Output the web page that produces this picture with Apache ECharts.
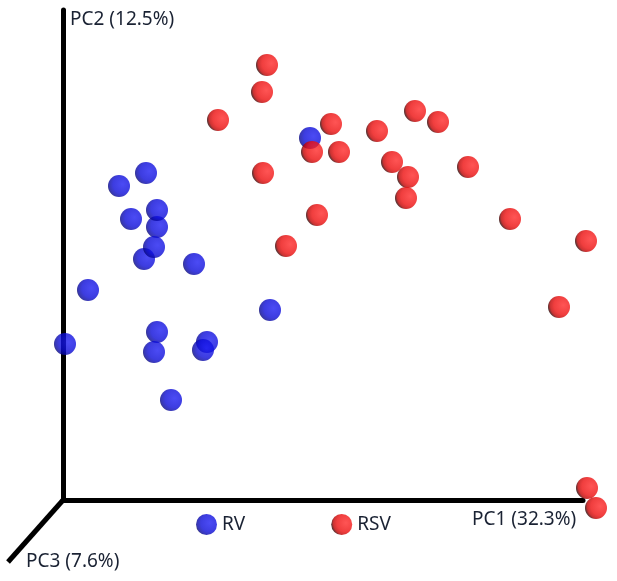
<!DOCTYPE html>
<html>
<head>
<meta charset="utf-8">
<script src="https://cdn.jsdelivr.net/npm/echarts@6/dist/echarts.min.js"></script>
<style>
  html, body { margin: 0; padding: 0; background: #fff; }
  #pca-box { width: 617px; height: 581px; }
</style>
</head>
<body>
<div id="pca-box"></div>
<script>
  // projected PCA coordinates (PC1 horizontal, PC2 vertical)
  const rvPoints = [
    [49.4, 72.4], [16.6, 65.4], [11.2, 62.8], [13.6, 56.2], [18.8, 54.6],
    [18.8, 58.0], [16.2, 48.2], [18.2, 50.6], [26.2, 47.2], [5.0, 42.0],
    [41.4, 38.0], [18.8, 33.6], [18.2, 29.6], [0.4, 31.2], [28.8, 31.6],
    [28.0, 30.0], [21.6, 20.0]
  ];
  const rsvPoints = [
    [40.8, 87.0], [39.8, 81.6], [31.0, 76.0], [40.0, 65.4], [44.6, 50.8],
    [50.8, 57.0], [49.8, 69.6], [53.6, 75.2], [55.2, 69.6], [62.8, 73.8],
    [70.4, 77.8], [75.0, 75.6], [65.8, 67.6], [69.0, 64.6], [68.6, 60.4],
    [81.0, 66.6], [89.4, 56.2], [104.6, 51.8], [99.2, 38.6], [104.8, 2.4],
    [106.6, -1.6]
  ];
  const seriesNames = ['RV', 'RSV'];
  const axisNames = ['PC1 (32.3%)', 'PC2 (12.5%)', 'PC3 (7.6%)'];

  const labelColor = '#1a2233';
  const labelFont = '"Noto Sans", sans-serif';

  function sphere(stops, cx) {
    return {
      type: 'radial', x: cx, y: 0.42, r: 0.78,
      colorStops: stops.map(function (s) { return { offset: s[0], color: s[1] }; })
    };
  }
  const blueBall = sphere([[0, '#1e1ef2'], [0.55, '#0c0cd8'], [0.8, '#06069a'], [0.93, '#020230'], [1, '#000000']], 0.66);
  const redBall = sphere([[0, '#ff2a2a'], [0.55, '#ec0e0e'], [0.76, '#c00000'], [0.9, '#2a0000'], [1, '#000000']], 0.7);

  const myChart = echarts.init(document.getElementById('pca-box'), null, { renderer: 'canvas' });

  const option = {
    backgroundColor: '#ffffff',
    animation: false,
    grid: { left: 63, right: 34, top: 10, bottom: 81 },
    xAxis: {
      type: 'value', min: 0, max: 104,
      axisLine: { show: true, lineStyle: { color: '#000', width: 5 } },
      axisTick: { show: false }, axisLabel: { show: false }, splitLine: { show: false }
    },
    yAxis: {
      type: 'value', min: 0, max: 98,
      axisLine: { show: true, lineStyle: { color: '#000', width: 5 } },
      axisTick: { show: false }, axisLabel: { show: false }, splitLine: { show: false }
    },
    legend: {
      data: seriesNames,
      left: 191, top: 509,
      icon: 'circle',
      itemWidth: 21, itemHeight: 21,
      itemGap: 86,
      textStyle: { color: labelColor, fontSize: 19, fontFamily: labelFont }
    },
    graphic: [
      {
        type: 'line', z: 5,
        shape: { x1: 64, y1: 499, x2: 8, y2: 562 },
        style: { stroke: '#000', lineWidth: 5 }
      },
      {
        type: 'text', left: 70, top: 10,
        style: { text: axisNames[1], fill: labelColor, font: '19px ' + labelFont }
      },
      {
        type: 'text', left: 472, top: 510,
        style: { text: axisNames[0], fill: labelColor, font: '19px ' + labelFont }
      },
      {
        type: 'text', left: 26, top: 552,
        style: { text: axisNames[2], fill: labelColor, font: '19px ' + labelFont }
      }
    ],
    series: [
      {
        name: seriesNames[0], type: 'scatter', symbolSize: 22, clip: false,
        itemStyle: { color: blueBall },
        data: rvPoints
      },
      {
        name: seriesNames[1], type: 'scatter', symbolSize: 22, clip: false,
        itemStyle: { color: redBall },
        data: rsvPoints
      }
    ]
  };

  myChart.setOption(option, true);
</script>
</body>
</html>
